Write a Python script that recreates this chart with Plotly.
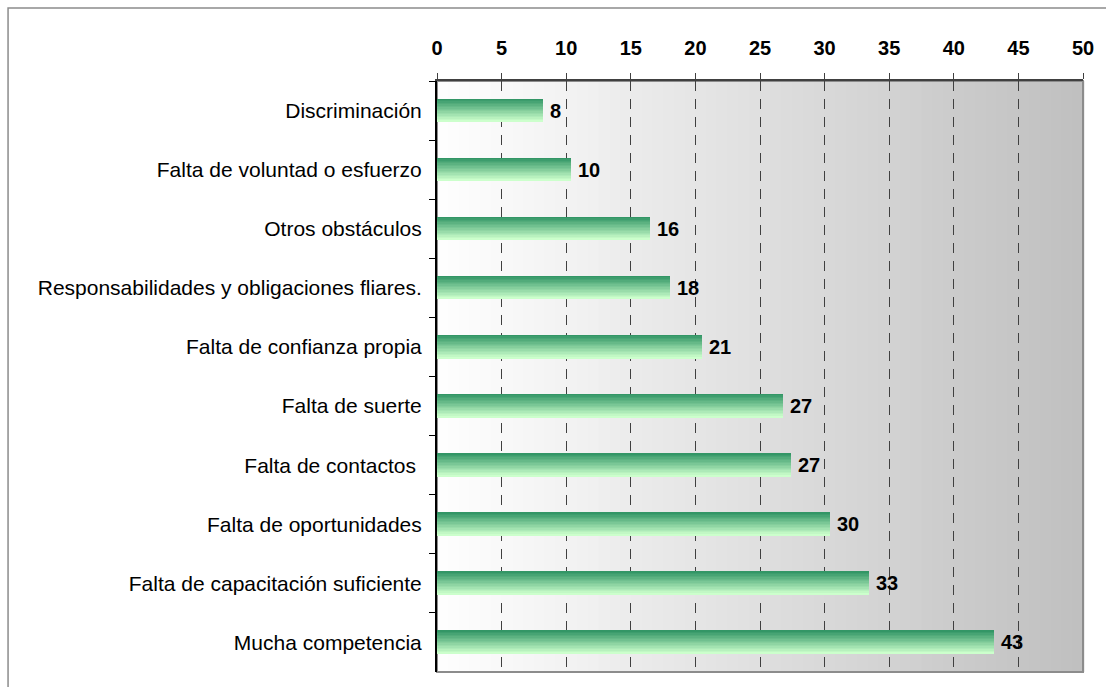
import plotly.graph_objects as go

# categories, top to bottom
categories = ['Discriminación', 'Falta de voluntad o esfuerzo', 'Otros obstáculos',
              'Responsabilidades y obligaciones fliares.', 'Falta de confianza propia',
              'Falta de suerte', 'Falta de contactos ', 'Falta de oportunidades',
              'Falta de capacitación suficiente', 'Mucha competencia']
values = [8.2, 10.4, 16.5, 18.0, 20.5, 26.8, 27.4, 30.4, 33.4, 43.1]
labels = ['8', '10', '16', '18', '21', '27', '27', '30', '33', '43']
x_ticks = [0, 5, 10, 15, 20, 25, 30, 35, 40, 45, 50]


def mix(c1, c2, t):
    return '#%02x%02x%02x' % tuple(round(a + (b - a) * t) for a, b in zip(c1, c2))


fig = go.Figure()

# green bars with a vertical gradient: stack thin slices
n_slices = 16
bar_w = 0.39
dark, light = (0x33, 0x96, 0x66), (0xcc, 0xff, 0xcc)
for i in range(n_slices):
    t = i / (n_slices - 1)
    fig.add_trace(go.Bar(
        y=categories, x=values, orientation='h',
        width=bar_w / n_slices * 1.05,
        offset=-bar_w / 2 + i * bar_w / n_slices,
        marker_color=mix(dark, light, t),
        marker_line_width=0,
        hoverinfo='skip', showlegend=False,
    ))

# value labels
for cat, val, lab in zip(categories, values, labels):
    fig.add_annotation(
        x=val, y=cat, text=lab, showarrow=False,
        xanchor='left', yanchor='middle', xshift=5,
        font=dict(family='Liberation Sans, Arial', size=20, color='black', weight='bold'),
    )

# background gradient white -> gray, left to right
shapes = []
n_bg = 60
for i in range(n_bg):
    shapes.append(dict(
        type='rect', xref='x domain', yref='y domain',
        x0=i / n_bg, x1=(i + 1) / n_bg + 0.002, y0=0, y1=1,
        fillcolor=mix((0xff, 0xff, 0xff), (0xbf, 0xbf, 0xbf), (i + 0.5) / n_bg),
        line_width=0, layer='below',
    ))
# plot frame (right, bottom) in gray
shapes.append(dict(type='rect', xref='x domain', yref='y domain', x0=0, x1=1, y0=0, y1=1,
                   line=dict(color='#8c8c8c', width=2), layer='below'))
# outer chart border
shapes.append(dict(type='rect', xref='paper', yref='paper', x0=-0.664, x1=1.1, y0=-0.1, y1=1.1235,
                   line=dict(color='#8c8c8c', width=1.5), layer='below'))

fig.update_layout(
    width=1106, height=687,
    margin=dict(l=437, r=21, t=81, b=15),
    paper_bgcolor='white', plot_bgcolor='rgba(0,0,0,0)',
    barmode='overlay', bargap=0,
    shapes=shapes,
    font=dict(family='Liberation Sans, Arial', size=21, color='black'),
    xaxis=dict(
        side='top', range=[0, 50], tickvals=x_ticks,
        showgrid=True, gridcolor='#404040', griddash='10px,8px', gridwidth=1,
        showline=True, linecolor='#404040', linewidth=2,
        ticks='outside', ticklen=6, tickcolor='#404040',
        ticklabelstandoff=10,
        tickfont=dict(size=20, weight='bold'), zeroline=False,
    ),
    yaxis=dict(
        autorange='reversed', showgrid=False,
        showline=True, linecolor='black', linewidth=2,
        ticks='outside', tickson='boundaries', ticklen=6, tickcolor='black',
        ticklabelstandoff=9,
        tickfont=dict(size=21),
    ),
)

fig.write_html('out.html', config={'displayModeBar': False},
               post_script="document.body.style.margin='0';")
